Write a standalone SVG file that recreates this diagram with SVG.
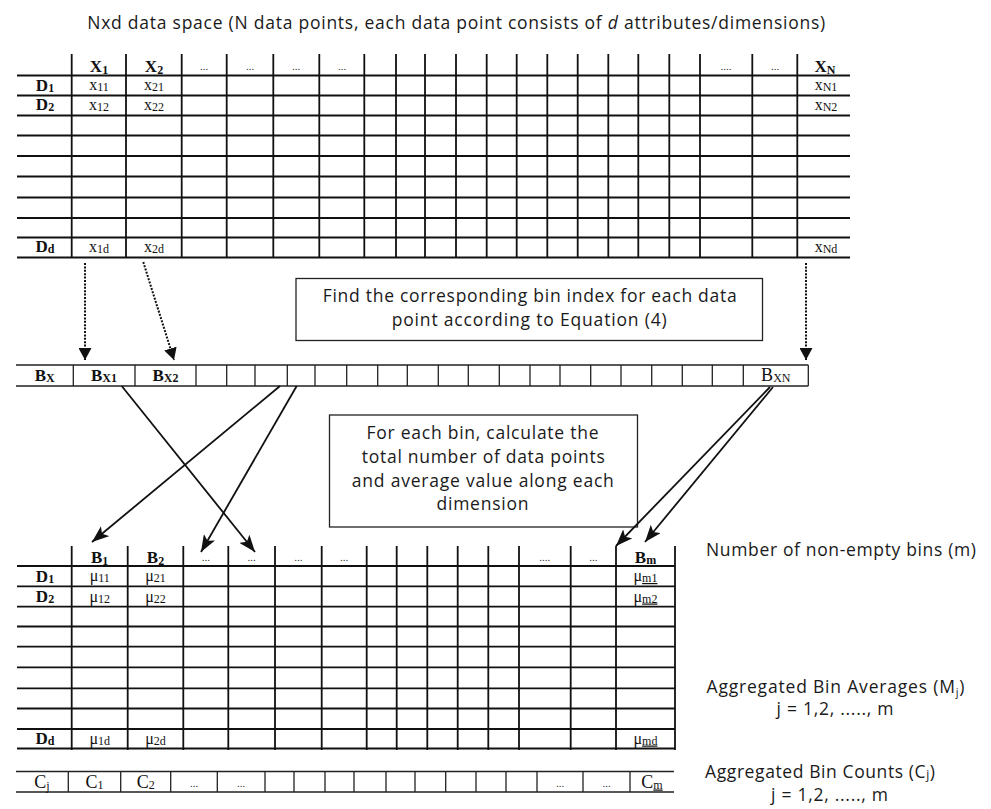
<svg xmlns="http://www.w3.org/2000/svg" width="991" height="809" viewBox="0 0 991 809">
<defs>
<style>
.grid{fill:none;stroke:#111;stroke-width:1.8}
.thin{fill:none;stroke:#222;stroke-width:1.3}
.box{fill:#fff;stroke:#222;stroke-width:1.3}
.lbl{font-family:"Open Sans","Liberation Sans",sans-serif;font-size:17.5px;fill:#1a1a1a}
.cap{font-family:"Open Sans","Liberation Sans",sans-serif;font-size:17.5px;fill:#1a1a1a;text-anchor:middle}
.hd{font-family:"Liberation Serif",serif;font-size:17px;font-weight:bold;fill:#111;text-anchor:middle}
.cell{font-family:"Liberation Serif",serif;font-size:16px;fill:#111;text-anchor:middle}
.cnt{font-family:"Liberation Serif",serif;font-size:18px;fill:#111;text-anchor:middle}
.dots{font-family:"Liberation Serif",serif;font-size:11px;fill:#333;text-anchor:middle}
.sub{font-size:12px}
.hsub{font-size:12px}
.u{text-decoration:underline}
.dot{fill:none;stroke:#111;stroke-width:2;stroke-dasharray:2 1.4}
.arr{fill:none;stroke:#111;stroke-width:1.8}
</style>
<marker id="tri" viewBox="0 0 12 13" markerWidth="12" markerHeight="13" refX="12" refY="6.5" orient="auto" markerUnits="userSpaceOnUse">
<path d="M0,0 L12,6.5 L0,13 Z" fill="#111"/>
</marker>
<marker id="head" viewBox="0 0 17 13" markerWidth="17" markerHeight="13" refX="17" refY="6.5" orient="auto" markerUnits="userSpaceOnUse">
<path d="M0,0 L17,6.5 L0,13 L4,6.5 Z" fill="#111"/>
</marker>
</defs>
<rect width="991" height="809" fill="#fff"/>

<g id="title">
<text class="cap" x="456.2" y="29" textLength="738" lengthAdjust="spacing">Nxd data space (N data points, each data point consists of <tspan font-style="italic">d</tspan> attributes/dimensions)</text>
</g>

<g id="data-table">
<path class="grid" d="M17,75.5H850M17,95.5H850M17,115.5H850M17,135.5H850M17,156H850M17,176.5H850M17,197.5H850M17,218H850M17,237.5H850M17,257.5H850
M71.7,54V258M126,54V258M181.7,54V258M226.7,54V258M273.3,54V258M319.3,54V258M364.3,54V258M396,54V258M425,54V258M456,54V258M486.7,54V258M516.7,54V258M547.3,54V258M577.7,54V258M608.3,54V258M638.3,54V258M669.3,54V258M700,54V258M752.3,54V258M797.3,54V258"/>
<text class="hd" x="99" y="72">X<tspan class="hsub" dy="2">1</tspan></text>
<text class="hd" x="154" y="72">X<tspan class="hsub" dy="2">2</tspan></text>
<text class="dots" x="204" y="70">...</text>
<text class="dots" x="250" y="70">...</text>
<text class="dots" x="296" y="70">...</text>
<text class="dots" x="342" y="70">...</text>
<text class="dots" x="726" y="70">....</text>
<text class="dots" x="775" y="70">...</text>
<text class="hd" x="825" y="72">X<tspan class="hsub" dy="2">N</tspan></text>
<text class="hd" x="45" y="91">D<tspan class="hsub" dy="1">1</tspan></text>
<text class="hd" x="45" y="110">D<tspan class="hsub" dy="1">2</tspan></text>
<text class="hd" x="45" y="252">D<tspan class="hsub" dy="1">d</tspan></text>
<text class="cell" x="99" y="90">x<tspan class="sub" dy="1">11</tspan></text>
<text class="cell" x="154" y="90">x<tspan class="sub" dy="1">21</tspan></text>
<text class="cell" x="99" y="110">x<tspan class="sub" dy="1">12</tspan></text>
<text class="cell" x="154" y="110">x<tspan class="sub" dy="1">22</tspan></text>
<text class="cell" x="99" y="252">x<tspan class="sub" dy="1">1d</tspan></text>
<text class="cell" x="154" y="252">x<tspan class="sub" dy="1">2d</tspan></text>
<text class="cell" x="826" y="90">x<tspan class="sub" dy="1">N1</tspan></text>
<text class="cell" x="826" y="110">x<tspan class="sub" dy="1">N2</tspan></text>
<text class="cell" x="826" y="252">x<tspan class="sub" dy="1">Nd</tspan></text>
</g>

<g id="find-bin-box">
<rect class="box" x="296" y="278.5" width="466.5" height="62"/>
<text class="cap" x="529.7" y="302" textLength="414" lengthAdjust="spacing">Find the corresponding bin index for each data</text>
<text class="cap" x="529.2" y="326" textLength="275" lengthAdjust="spacing">point according to Equation (4)</text>
</g>

<g id="bin-row">
<path class="thin" d="M16,365H808.3M16,386H808.3M73.3,365V386M135,365V386M196,365V386M226.7,365V386M255,365V386M287.3,365V386M315,365V386M346.7,365V386M377.7,365V386M407.3,365V386M438.3,365V386M468.3,365V386M499.3,365V386M530,365V386M560,365V386M590.7,365V386M621,365V386M651.7,365V386M682.3,365V386M712.3,365V386M743.3,365V386M808.3,365V386"/>
<text class="hd" x="44.7" y="381" font-size="17">B<tspan class="hsub" dy="1">X</tspan></text>
<text class="hd" x="104" y="381" font-size="17">B<tspan class="hsub" dy="1">X1</tspan></text>
<text class="hd" x="165.5" y="381" font-size="17">B<tspan class="hsub" dy="1">X2</tspan></text>
<text class="cnt" x="775.8" y="381" font-size="17">B<tspan class="hsub" dy="1">XN</tspan></text>
</g>

<g id="aggregate-box">
<rect class="box" x="329.5" y="415" width="308" height="112"/>
<text class="cap" x="482.5" y="439" textLength="232" lengthAdjust="spacing">For each bin, calculate the</text>
<text class="cap" x="483.3" y="463" textLength="243" lengthAdjust="spacing">total number of data points</text>
<text class="cap" x="482.8" y="486.5" textLength="262" lengthAdjust="spacing">and average value along each</text>
<text class="cap" x="482.5" y="510" textLength="92" lengthAdjust="spacing">dimension</text>
</g>

<g id="bin-average-table">
<path class="grid" d="M17,566H675M17,586.3H675M17,606.7H675M17,626.5H675M17,646.7H675M17,667.3H675M17,688.3H675M17,708.5H675M17,729H675M17,748.5H675
M71.7,546V750M127.7,546V750M183.3,546V750M228.3,546V750M275,546V750M321.7,546V750M366.7,546V750M396.7,546V750M427.3,546V750M457.7,546V750M488.3,546V750M519,546V750M570.7,546V750M616,546V750M675,546V750"/>
<text class="hd" x="99.7" y="563">B<tspan class="hsub" dy="2">1</tspan></text>
<text class="hd" x="155.5" y="563">B<tspan class="hsub" dy="2">2</tspan></text>
<text class="dots" x="205.8" y="561">...</text>
<text class="dots" x="251.7" y="561">...</text>
<text class="dots" x="298.3" y="561">...</text>
<text class="dots" x="344.2" y="561">...</text>
<text class="dots" x="544.8" y="561">....</text>
<text class="dots" x="593.3" y="561">...</text>
<text class="hd" x="645.5" y="563">B<tspan class="hsub u" dy="1">m</tspan></text>
<text class="hd" x="45" y="582">D<tspan class="hsub" dy="1">1</tspan></text>
<text class="hd" x="45" y="602">D<tspan class="hsub" dy="1">2</tspan></text>
<text class="hd" x="45" y="744">D<tspan class="hsub" dy="1">d</tspan></text>
<text class="cell" x="99.7" y="581">μ<tspan class="sub" dy="1">11</tspan></text>
<text class="cell" x="155.5" y="581">μ<tspan class="sub" dy="1">21</tspan></text>
<text class="cell" x="99.7" y="601.5">μ<tspan class="sub" dy="1">12</tspan></text>
<text class="cell" x="155.5" y="601.5">μ<tspan class="sub" dy="1">22</tspan></text>
<text class="cell" x="99.7" y="743.5">μ<tspan class="sub" dy="1">1d</tspan></text>
<text class="cell" x="155.5" y="743.5">μ<tspan class="sub" dy="1">2d</tspan></text>
<text class="cell" x="645.5" y="581">μ<tspan class="sub u" dy="1">m1</tspan></text>
<text class="cell" x="645.5" y="601.5">μ<tspan class="sub u" dy="1">m2</tspan></text>
<text class="cell" x="645.5" y="743.5">μ<tspan class="sub u" dy="1">md</tspan></text>
</g>

<g id="count-row">
<path class="thin" d="M16,771.5H674M16,792H674M68.3,771.5V792M120.7,771.5V792M170.7,771.5V792M217.3,771.5V792M265,771.5V792M294,771.5V792M325,771.5V792M354,771.5V792M386,771.5V792M415,771.5V792M445.7,771.5V792M476,771.5V792M506,771.5V792M537,771.5V792M583,771.5V792M630,771.5V792"/>
<text class="cnt" x="42" y="787.5">C<tspan class="hsub" dy="2">j</tspan></text>
<text class="cnt" x="94.5" y="787.5">C<tspan class="hsub" dy="1">1</tspan></text>
<text class="cnt" x="145.7" y="787.5">C<tspan class="hsub" dy="1">2</tspan></text>
<text class="dots" x="194" y="787">...</text>
<text class="dots" x="241" y="787">...</text>
<text class="dots" x="560" y="787">...</text>
<text class="dots" x="606.5" y="787">...</text>
<text class="cnt" x="652" y="787.5">C<tspan class="hsub u" dy="1">m</tspan></text>
</g>

<g id="labels">
<text class="lbl" x="706" y="556" textLength="270" lengthAdjust="spacing">Number of non-empty bins (m)</text>
<text class="lbl" x="706.5" y="693" textLength="258" lengthAdjust="spacing">Aggregated Bin Averages (M<tspan font-size="11" dy="3">j</tspan><tspan dy="-3">)</tspan></text>
<text class="cap" x="835" y="715" textLength="117" lengthAdjust="spacing">j = 1,2, ....., m</text>
<text class="lbl" x="705" y="778" textLength="230" lengthAdjust="spacing">Aggregated Bin Counts (C<tspan font-size="12" dy="1">j</tspan><tspan dy="-1">)</tspan></text>
<text class="cap" x="829.5" y="801" textLength="117" lengthAdjust="spacing">j = 1,2, ....., m</text>
</g>

<g id="connectors">
<path class="dot" d="M85,263V360" marker-end="url(#tri)"/>
<path class="dot" d="M143.3,262L174,360" marker-end="url(#tri)"/>
<path class="dot" d="M806,263V360" marker-end="url(#tri)"/>
<path class="arr" d="M121.7,386L255,552" marker-end="url(#head)"/>
<path class="arr" d="M280,386L92,542" marker-end="url(#head)"/>
<path class="arr" d="M296.7,386L201,552" marker-end="url(#head)"/>
<path class="arr" d="M770,387L616,546" marker-end="url(#head)"/>
<path class="arr" d="M773,387L645,542" marker-end="url(#head)"/>
</g>
</svg>
